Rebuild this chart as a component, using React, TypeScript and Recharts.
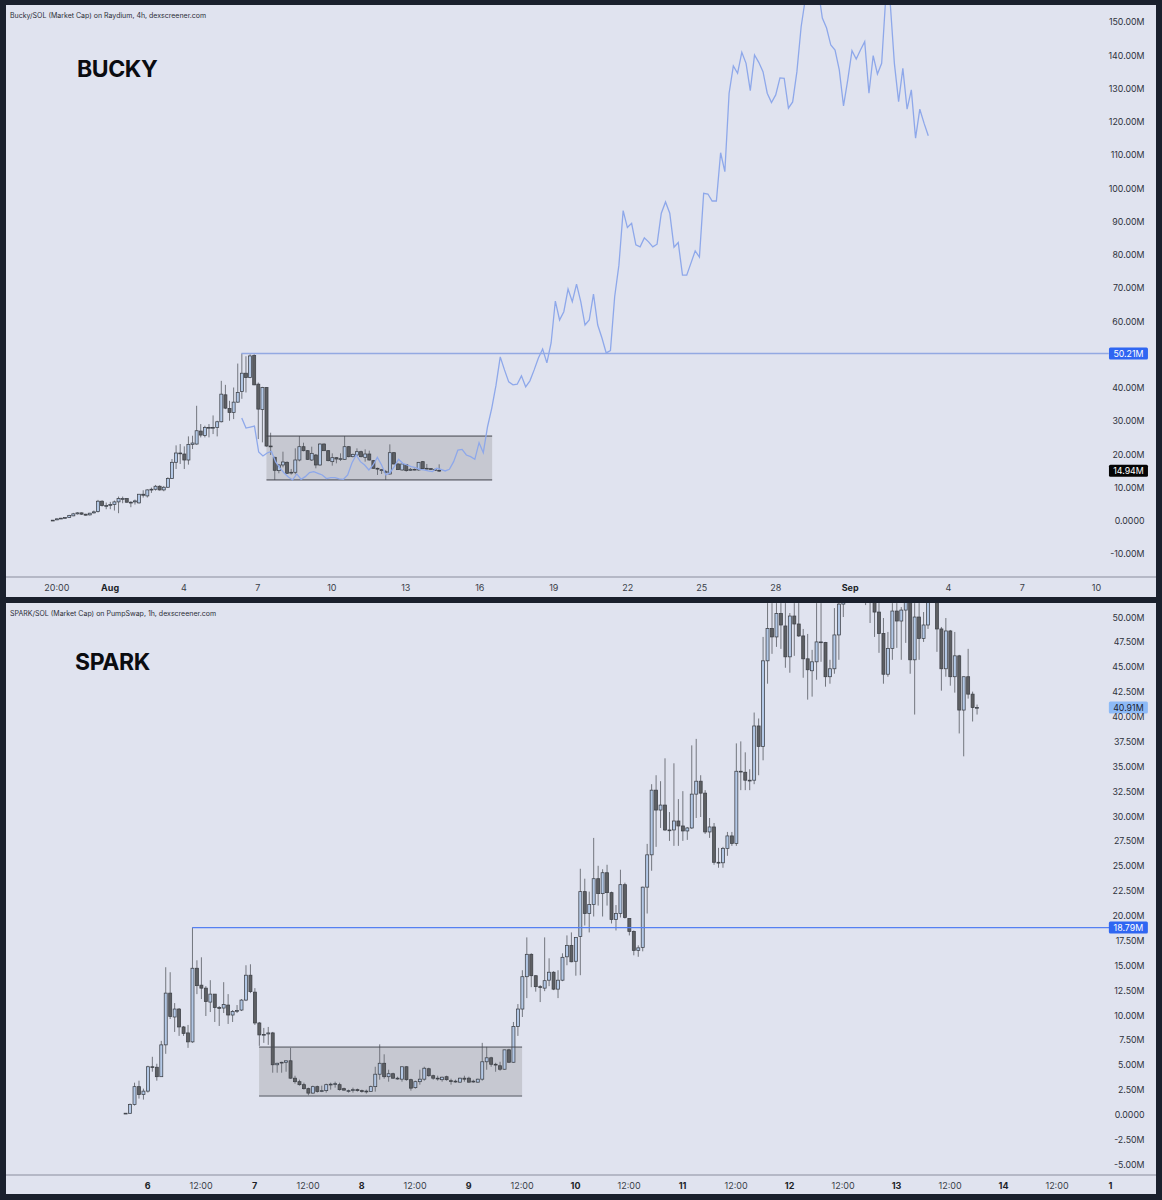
import React from 'react';
import {
  ComposedChart,
  Bar,
  Line,
  XAxis,
  YAxis,
  ReferenceArea,
  ReferenceLine,
  ReferenceDot,
} from 'recharts';

// [open, high, low, close] in millions, 4h bars
const buckyCandles = [
  [0, 0.15, -0.1, 0.1], [0.2, 0.6, 0.1, 0.5], [0.55, 0.8, 0.5, 0.7], [0.7, 1, 0.55, 0.9],
  [0.9, 1.7, 0.8, 1.5], [1.4, 2.3, 1.3, 2], [2, 2.5, 1.8, 2.3], [2.3, 2.4, 1.7, 1.9],
  [1.9, 2, 1.5, 1.6], [1.7, 2.3, 1.5, 2.2], [2.3, 3, 2.1, 2.6], [2.7, 6.2, 2.4, 5.8],
  [5.8, 6.1, 4.2, 4.5], [4.4, 5.4, 3.4, 4.5], [4.8, 5.6, 3.4, 4.8], [4.8, 6, 3, 5.6],
  [5.6, 7.2, 2.2, 6.6], [6.6, 7.2, 5.2, 6.6], [6.6, 6.7, 5.4, 5.5], [5.5, 5.8, 4, 5.5],
  [5.6, 6.3, 4.8, 5.9], [5.3, 7.9, 5.1, 7.9], [7.9, 9.1, 6.9, 7.6], [7.4, 9.4, 6.9, 9.2],
  [9.3, 9.9, 8.3, 9.4], [9.4, 10.7, 9, 10.3], [10.3, 10.6, 9, 9.2], [9.2, 10.4, 8.8, 10],
  [10, 13, 9.8, 12.6], [12.6, 18.5, 12.5, 17.5], [17.5, 22.6, 15.5, 20.3], [20.3, 23, 17, 20.2],
  [20, 22.3, 15.5, 18.2], [18.2, 25.3, 16.8, 22.9], [22.9, 25.5, 21.5, 23.3], [23, 34.5, 22.8, 27],
  [26.9, 29, 25, 25.7], [25.6, 28.5, 25, 28], [27.9, 29, 25, 28], [28, 31.6, 26, 28],
  [28, 30, 25.3, 29.7], [29.7, 42, 29.5, 38], [37.8, 40.8, 33.5, 33.8], [33.7, 36, 30, 32.5],
  [32.5, 40, 30.5, 35.6], [35.6, 47.2, 35.4, 38.5], [38.8, 50.21, 36.6, 44.3], [44.3, 49.4, 38.5, 43],
  [43, 50, 42.8, 49.5], [49.6, 50, 40.7, 40.8], [41, 41.5, 24.5, 33.5], [33.4, 40.2, 23.5, 40],
  [40, 40.1, 22.2, 22.4], [22.4, 26.4, 19.7, 22.2], [19, 19.2, 12.2, 15.1], [15, 17, 14.2, 16.7],
  [16.7, 20.7, 16, 17.6], [17.5, 17.8, 14, 14.2], [14.3, 15.5, 13.8, 14.5], [14.5, 21.7, 13.9, 18.2],
  [18.2, 25.4, 17.8, 22.2], [22.2, 23.4, 20.8, 21], [21, 21.2, 18.2, 18.4], [18.2, 22.2, 17.9, 20.2],
  [19.7, 20, 15.7, 16.7], [16.7, 23.2, 16.5, 23], [23, 23.2, 21, 21], [21, 21.2, 17.8, 18],
  [17.7, 20.2, 16.5, 18.9], [18.9, 19, 17.2, 18.5], [18.4, 20.2, 17.9, 18.6], [18.4, 25.4, 18.2, 22.2],
  [22.2, 22.4, 19, 19.2], [19.2, 20.1, 19, 19.9], [19.7, 21.7, 19.5, 20.7], [20.7, 21, 19, 19.2],
  [19, 21.4, 17.7, 20], [20, 21, 18, 18.2], [18, 18.2, 15.6, 15.7], [15.7, 15.9, 13.7, 15.6],
  [15, 15.5, 14, 15.3], [14.5, 15.2, 12.2, 14.7], [14, 22.9, 13.8, 20.4], [20.4, 20.6, 16.9, 17],
  [17, 17.2, 15.2, 15.3], [15.2, 17, 15, 17], [16.8, 17, 14.7, 15], [15.1, 15.8, 14.9, 15.4],
  [15.4, 15.6, 15.1, 15.4], [15.2, 17.6, 15, 17.5], [17.7, 17.9, 15.5, 15.6], [15.7, 17, 15.4, 15.7],
  [15.6, 15.7, 15.2, 15.5], [15.3, 15.6, 14.9, 15.1], [15.1, 16.9, 14.6, 14.94],
];

// overlaid comparison line, one value per bar of the other pair
const buckyLine = [
  30.8, 27.8, 28.1, 28.4, 20.6, 19.4, 20.3, 20.8, 17.6, 15.8, 14.3, 13.1, 12.2,
  14, 12.4, 13.2, 14.4, 14.7, 14.2, 13.7, 12.6, 12.9, 12.9, 12.5, 12.4, 13.7, 17.3, 19.7, 17.7,
  16.7, 15.2, 16.7, 19, 16.7, 13.7, 14.4, 16.2, 18.4, 17.2, 16.7, 16.2, 15.9, 15.4, 15.2, 14.9, 14.7,
  15.7, 15.4, 14.9, 15.4, 17.7, 21.2, 21.4, 19.7, 19.2, 18.4, 23.4, 20.4, 28.2, 33.8, 40.7, 49.2,
  45.3, 41.7, 40.8, 41, 43.5, 40.2, 42, 45.3, 48.9, 51.6, 47.4, 53.4, 66, 60.3, 62.8, 69.6, 65.8, 71.1,
  65.8, 58.8, 60.3, 68.1, 58.8, 54.9, 50.4, 51.1, 67.3, 76.8, 93.2, 88.1, 89.4, 82.9, 82.3, 85,
  83.8, 82.3, 83.1, 92.4, 95.8, 92.4, 82.2, 83.6, 73.8, 73.8, 77.4, 81.1, 79.2, 98.4, 98.2, 96.1,
  96.1, 110.6, 104.9, 128.5, 136.7, 134.5, 140.8, 137.5, 129.3, 140, 137.8, 135, 128.5, 125.7, 128,
  133.1, 133, 124, 125.9, 135, 148.5, 157, 161, 165, 160, 151.1, 148.1, 143, 141.5, 135.5, 124.7,
  132.5, 141.3, 138.8, 141.5, 144, 128.5, 139.8, 134.3, 137.5, 158, 156, 137.5, 126, 136, 123.7,
  129.5, 115, 123.7, 119.5, 115.7,
];

const buckyPriceTicks = [150, 140, 130, 120, 110, 100, 90, 80, 70, 60, 40, 30, 20, 10, 0, -10];
const buckyTimeTicks = [1.1, 14.05, 32, 50, 68, 86, 104, 122, 140, 158, 176, 194.1, 218, 236, 254];
const buckyTimeLabels = ['20:00', 'Aug', '4', '7', '10', '13', '16', '19', '22', '25', '28', 'Sep', '4', '7', '10'];
const buckyBoldLabels = ['Aug', 'Sep'];

// [open, high, low, close] in millions, 1h bars
const sparkCandles = [
  [0.1, 0.15, 0.1, 0.13], [0.12, 1.1, 0.1, 1], [1, 3.2, 0.9, 2.8], [2.8, 3.4, 1.6, 2],
  [2, 2.6, 1.5, 2.35], [2.35, 4.9, 2.2, 4.8], [4.8, 5.8, 4.3, 4.75], [4.75, 5.1, 3.4, 3.8],
  [3.8, 7.4, 3.8, 7], [7, 14.8, 6.1, 12.2], [12.2, 14.3, 9.6, 9.85], [9.8, 11.2, 8.3, 10.6],
  [10.6, 10.7, 7.9, 8.8], [8.8, 8.9, 7.9, 8.15], [8.2, 9, 6.7, 7.3], [7.3, 18.79, 7.2, 14.7],
  [14.7, 15.5, 12.1, 12.95], [13, 15.8, 11.6, 12.7], [12.7, 12.9, 9.9, 11.35], [11.3, 13.5, 10.3, 12.1],
  [12.1, 12.1, 9.3, 10.75], [10.75, 10.9, 8.9, 10.7], [10.7, 13.3, 10.2, 11.05], [11, 12.1, 9.1, 10],
  [10, 10.5, 9.3, 10.35], [10.4, 11, 10.2, 10.45], [10.5, 11.6, 10.4, 11.5], [11.5, 15, 11.4, 14],
  [14, 15.1, 12.2, 12.35], [12.3, 12.7, 9, 9.2], [9.2, 9.3, 6.9, 8], [8, 8.7, 7.2, 8.05],
  [8.1, 8.8, 7, 8.2], [8.2, 8.3, 4.2, 5], [5, 5.2, 4.2, 5.15], [5.2, 5.3, 4.2, 5.25],
  [5.25, 5.4, 4.3, 5.4], [5.4, 6.7, 3.6, 3.65], [3.65, 3.9, 3.1, 3.3], [3.3, 3.5, 2.9, 3],
  [3, 3.2, 2.5, 2.6], [2.6, 2.7, 1.9, 2.15], [2.15, 2.9, 2.1, 2.8], [2.8, 2.9, 2.2, 2.3],
  [2.35, 2.9, 2.25, 2.4], [2.4, 3.1, 2.2, 3],
  [3, 3.2, 2.5, 3.05], [3.05, 3.3, 2.7, 3.1], [3, 3.2, 2.4, 2.5], [2.6, 2.7, 2.4, 2.45],
  [2.4, 2.5, 2.2, 2.4], [2.45, 2.7, 2.2, 2.5], [2.5, 2.6, 2.3, 2.4], [2.4, 2.5, 2.2, 2.3],
  [2.3, 2.5, 2.1, 2.35], [2.3, 2.9, 2.3, 2.8], [2.8, 4.8, 2.3, 4.05], [4.05, 7.05, 3.5, 5.15],
  [5.15, 6.05, 3.6, 3.8], [3.8, 4.5, 3.3, 4.1], [4.1, 4.2, 3.6, 3.65], [3.65, 3.8, 3.5, 3.65],
  [3.55, 4.8, 3.3, 4.8], [4.8, 4.85, 3.4, 3.5], [3.5, 3.6, 2.4, 2.65], [2.7, 3.4, 2.6, 3.3],
  [3.3, 4.5, 3, 3.55], [3.55, 4.8, 3.4, 4.65], [4.6, 4.7, 3.8, 3.9], [3.9, 4, 3.5, 3.65],
  [3.65, 3.9, 3.4, 3.6], [3.5, 3.8, 3.3, 3.75], [3.8, 3.9, 3.4, 3.5], [3.4, 3.6, 3, 3.35],
  [3.35, 3.5, 3.2, 3.3], [3.25, 3.7, 3.2, 3.65], [3.65, 3.9, 3.3, 3.55], [3.65, 3.8, 3.2, 3.25],
  [3.3, 3.5, 3.2, 3.35], [3.25, 3.6, 3.2, 3.55], [3.55, 7.2, 3.4, 5.3], [5.3, 6.8, 4.5, 5.7],
  [5.7, 5.8, 4.8, 5.05], [5.05, 5.2, 4.3, 5], [4.9, 5.3, 4.4, 4.55], [4.55, 6.5, 4.5, 6.5],
  [6.5, 6.6, 5.2, 5.25],
  [5.25, 9.3, 5.2, 8.85], [8.85, 11.1, 7.9, 10.6], [10.6, 14.5, 9.8, 13.85], [13.85, 17.8, 11.7, 16.1],
  [16.1, 16.2, 12.8, 13.95], [13.95, 14, 12.35, 12.85], [12.85, 13, 11.3, 12.8], [12.7, 17.8, 12.4, 13.45],
  [13.5, 15.7, 12.9, 14.3], [14.3, 14.4, 12.5, 12.6], [12.6, 14.5, 11.7, 13.5], [13.5, 16.2, 13.4, 15.8],
  [15.85, 18, 15, 17], [17, 18.3, 15.3, 15.35], [15.4, 17.8, 13.95, 17.8], [17.9, 24.7, 14, 22.4],
  [22.4, 23.7, 19, 20.2], [20.2, 22.4, 18.3, 21.1], [21.1, 27.8, 19.9, 23.7], [23.7, 25, 21, 22.2],
  [22.2, 24.65, 19.9, 24.3], [24.3, 25.1, 21, 22.3], [22.3, 22.4, 19.2, 19.6], [19.6, 21.05, 18.5, 20.2],
  [20.2, 24.6, 19.8, 23.1], [23.1, 23.3, 19.7, 19.8], [19.7, 19.7, 18, 18.4], [18.4, 18.5, 16, 16.5],
  [16.5, 17, 15.85, 16.75], [16.8, 22.9, 16.4, 22.85], [22.85, 27.2, 20.2, 26.1], [26.1, 33.2, 24.5, 32.6],
  [32.6, 34.1, 26.9, 30.6], [30.6, 33.5, 28.8, 31.1], [31.1, 35.8, 28.5, 28.6], [28.6, 30.4, 27.5, 28.6],
  [28.6, 35.3, 27, 29.5], [29.5, 31.7, 27, 29], [29, 32.5, 27.5, 28.5], [28.5, 28.9, 27.6, 28.8],
  [28.8, 37.1, 28.7, 32.2], [32.2, 37.75, 29.8, 33.5], [33.5, 34.1, 29.9, 32.3], [32.3, 32.6, 28.2, 28.4],
  [28.4, 29.8, 27.8, 28.9], [28.9, 29.3, 25.1, 25.35], [25.35, 26.8, 24.8, 25.3], [25.3, 26.9, 24.8, 26.75],
  [26.75, 28.4, 26, 28], [28, 28.4, 27, 27.25], [27.25, 37.3, 27, 34.5],
  [34.5, 37.5, 32.6, 34.5], [34.4, 36.4, 32.6, 33.6], [33.6, 34.7, 32.6, 33.6], [33.6, 40.4, 33.2, 39.05],
  [39.05, 39.8, 34.1, 37], [37, 48, 35.6, 45.6], [45.6, 51.4, 43.3, 48.85], [48.85, 51.4, 46.3, 48],
  [48, 51.4, 47, 50.35], [50.35, 51.4, 46.8, 49.2], [49.1, 51.4, 44.9, 46], [46, 50.4, 44.4, 50.1],
  [50.1, 51.4, 46.1, 49.3], [49.3, 51.4, 48, 48.1], [48.1, 48.8, 43.9, 45.8], [45.8, 48.3, 41.7, 44.7],
  [44.6, 46.7, 42, 45.5], [45.5, 51.4, 43.7, 47.5], [47.5, 51.4, 45.5, 47.5], [47.45, 47.5, 43, 44],
  [44, 45.7, 43.3, 44.8], [44.8, 50.9, 44.3, 48.2], [48.2, 52, 45.7, 51.3], [51.3, 54, 50, 53],
  [53, 55, 52, 54], [54, 56, 52.5, 55], [55, 56, 53, 54], [54, 55, 52.8, 53],
  [52, 53, 51.2, 51.5], [51.5, 53, 49.4, 51.6], [51.6, 51.7, 48, 50.5], [50.5, 51.4, 46.4, 48.35],
  [48.35, 49.9, 43.3, 44.25], [44.25, 48.5, 44, 46.85], [46.85, 51.4, 45.7, 50.6], [50.6, 51.4, 46.9, 49.6],
  [49.6, 51, 45.7, 50.7], [50.7, 53, 47.4, 51.9], [51.9, 53, 44.3, 45.7], [45.7, 51.4, 40.2, 50],
  [50, 51.4, 45.7, 47.85], [47.85, 50.5, 47.5, 49.2], [49.2, 52, 48.8, 52], [52, 53, 51.5, 52.5],
  [52, 53, 46.5, 48.8], [48.8, 49, 42.6, 44.8], [44.8, 49.9, 44, 48.6], [48.6, 48.7, 43.1, 44],
  [44, 48.5, 42.4, 46.1], [46.1, 46.2, 38.3, 40.65], [40.65, 44, 36, 44], [44, 46.8, 41.8, 42.25],
  [42.25, 42.5, 39.5, 40.9], [40.9, 41.2, 40.2, 40.91],
];

const sparkPriceTicks = [
  50, 47.5, 45, 42.5, 40, 37.5, 35, 32.5, 30, 27.5, 25, 22.5, 20, 17.5, 15, 12.5, 10, 7.5, 5, 2.5, 0, -2.5, -5,
];
const sparkTimeTicks = [0, 12, 24, 36, 48, 60, 72, 84, 96, 108, 120, 132, 144, 156, 168, 180, 192, 204, 216];
const sparkTimeLabels = [
  '6', '12:00', '7', '12:00', '8', '12:00', '9', '12:00', '10', '12:00', '11', '12:00', '12', '12:00', '13',
  '12:00', '14', '12:00', '1',
];
const sparkBoldLabels = ['6', '7', '8', '9', '10', '11', '12', '13', '14', '1'];

const BG = '#e0e3ef';
const FRAME = '#1a202d';
const PANEL_WIDTH = 1150;
const LABEL_X = 1138.5;
const FONT = 'Inter, "Liberation Sans", sans-serif';
const BUCKY_BARS: [number, number] = [-11.27, 268.5];

const toRows = (candles: number[][], firstBar: number) =>
  candles.map(([open, high, low, close], i) => ({
    t: firstBar + i,
    open,
    high,
    low,
    close,
    range: [low, high],
  }));

const buckyRows = toRows(buckyCandles, 0);
const sparkRows = toRows(sparkCandles, -5);

// the line sits on its own bars, spaced a little wider than the candles
const LINE_FIRST_BAR = 46.08;
const LINE_LAST_BAR = 213.1;
const buckyLineRows = buckyLine.map((v, i) => ({
  t: LINE_FIRST_BAR + (i * (LINE_LAST_BAR - LINE_FIRST_BAR)) / (buckyLine.length - 1),
  v,
}));

const Candle = (props: any) => {
  const { x, y, width, height, payload } = props;
  const { open, high, low, close } = payload;
  const perUnit = height / (high - low);
  const yOf = (v: number) => y + (high - v) * perUnit;
  const up = close >= open;
  const top = yOf(Math.max(open, close));
  const bodyHeight = Math.max(Math.abs(open - close) * perUnit, 0.8);
  const mid = x + width / 2;
  return (
    <g>
      <line x1={mid} x2={mid} y1={y} y2={y + height} stroke="#666a72" strokeWidth={0.9} />
      <rect
        x={x}
        y={top}
        width={width}
        height={bodyHeight}
        fill={up ? '#b3c8e6' : '#5d5f63'}
        stroke="#3d4047"
        strokeWidth={0.75}
      />
    </g>
  );
};

const priceLabel = (v: number) => (v === 0 ? '0.0000' : `${v.toFixed(2)}M`);

const PriceTick = ({ y, payload }: any) => (
  <text x={LABEL_X} y={y} dy={3.5} textAnchor="end" fontSize={8.8} fontFamily={FONT} fill="#2e323c">
    {priceLabel(payload.value)}
  </text>
);

const makeTimeTick = (ticks: number[], labels: string[], bold: string[]) => ({ x, y, payload }: any) => {
  const label = labels[ticks.indexOf(payload.value)];
  return (
    <text
      x={x}
      y={y}
      dy={5.5}
      textAnchor="middle"
      fontSize={9}
      fontWeight={bold.includes(label) ? 700 : 400}
      fontFamily={FONT}
      fill={bold.includes(label) ? '#1c1f28' : '#3a3e48'}
    >
      {label}
    </text>
  );
};

const makeTag = (label: string, fill: string, color: string) => ({ cx, cy }: any) => (
  <g>
    <rect x={cx - 19.5} y={cy - 6} width={39} height={12} rx={1.5} fill={fill} />
    <text x={cx} y={cy} dy={3.6} textAnchor="middle" fontSize={8.8} fontFamily={FONT} fill={color}>
      {label}
    </text>
  </g>
);

const Panel = ({ top, height, caption, title, titleX, titleY, children }: any) => (
  <div
    style={{
      position: 'absolute',
      left: 6,
      top,
      width: PANEL_WIDTH,
      height,
      overflow: 'hidden',
      background: BG,
    }}
  >
    {children}
    <div
      style={{
        position: 'absolute',
        left: 4,
        top: 6,
        fontFamily: FONT,
        fontSize: 7,
        lineHeight: '9px',
        color: '#2b2e38',
        whiteSpace: 'nowrap',
      }}
    >
      {caption}
    </div>
    <div
      style={{
        position: 'absolute',
        left: titleX,
        top: titleY,
        fontFamily: FONT,
        fontSize: 23,
        letterSpacing: -0.4,
        fontWeight: 700,
        lineHeight: '28px',
        color: '#0b0c10',
      }}
    >
      {title}
    </div>
  </div>
);

const BuckyChart = () => (
  <ComposedChart width={PANEL_WIDTH} height={592} data={buckyRows} margin={{ top: 0, right: 0, bottom: 0, left: 0 }}>
    <XAxis
      dataKey="t"
      type="number"
      domain={BUCKY_BARS}
      allowDataOverflow
      ticks={buckyTimeTicks}
      interval={0}
      height={20}
      tickLine={false}
      axisLine={{ stroke: '#a7aab8', strokeWidth: 1.5 }}
      tick={makeTimeTick(buckyTimeTicks, buckyTimeLabels, buckyBoldLabels)}
    />
    {/* second axis so the line's bars do not squeeze the candle band */}
    <XAxis xAxisId="line" dataKey="t" type="number" domain={BUCKY_BARS} allowDataOverflow hide />
    <YAxis
      type="number"
      orientation="right"
      mirror
      domain={[-16.99, 155.04]}
      allowDataOverflow
      ticks={buckyPriceTicks}
      interval={0}
      tickLine={false}
      axisLine={false}
      tick={PriceTick}
    />
    <Bar dataKey="range" barSize={3} shape={Candle} isAnimationActive={false} />
    <ReferenceArea x1={52.1} x2={107} y1={12.2} y2={25.4} fill="#8b8b8b" fillOpacity={0.3} stroke="none" />
    <ReferenceLine segment={[{ x: 52.1, y: 25.4 }, { x: 107, y: 25.4 }]} stroke="#40434b" strokeWidth={1} />
    <ReferenceLine segment={[{ x: 52.1, y: 12.2 }, { x: 107, y: 12.2 }]} stroke="#40434b" strokeWidth={1} />
    <ReferenceLine segment={[{ x: 46, y: 50.21 }, { x: 257, y: 50.21 }]} stroke="#93a9e2" strokeWidth={1.4} />
    <Line
      xAxisId="line"
      data={buckyLineRows}
      dataKey="v"
      stroke="#8ea8ea"
      strokeWidth={1.3}
      dot={false}
      type="linear"
      isAnimationActive={false}
    />
    <ReferenceDot x={261.8} y={50.21} shape={makeTag('50.21M', '#2f66f2', '#ffffff')} />
    <ReferenceDot x={261.8} y={14.94} shape={makeTag('14.94M', '#050505', '#ffffff')} />
  </ComposedChart>
);

const SparkChart = () => (
  <ComposedChart width={PANEL_WIDTH} height={591} data={sparkRows} margin={{ top: 0, right: 0, bottom: 0, left: 0 }}>
    <XAxis
      dataKey="t"
      type="number"
      domain={[-31.77, 226.2]}
      allowDataOverflow
      ticks={sparkTimeTicks}
      interval={0}
      height={19}
      tickLine={false}
      axisLine={{ stroke: '#a7aab8', strokeWidth: 1.5 }}
      tick={makeTimeTick(sparkTimeTicks, sparkTimeLabels, sparkBoldLabels)}
    />
    <YAxis
      type="number"
      orientation="right"
      mirror
      domain={[-6.08, 51.41]}
      allowDataOverflow
      ticks={sparkPriceTicks}
      interval={0}
      tickLine={false}
      axisLine={false}
      tick={PriceTick}
    />
    <Bar dataKey="range" barSize={3} shape={Candle} isAnimationActive={false} />
    <ReferenceArea x1={25} x2={84} y1={1.86} y2={6.78} fill="#8b8b8b" fillOpacity={0.3} stroke="none" />
    <ReferenceLine segment={[{ x: 25, y: 6.78 }, { x: 84, y: 6.78 }]} stroke="#4c4f58" strokeWidth={1} />
    <ReferenceLine segment={[{ x: 25, y: 1.86 }, { x: 84, y: 1.86 }]} stroke="#7d808a" strokeWidth={1.4} />
    <ReferenceLine segment={[{ x: 10, y: 18.79 }, { x: 216, y: 18.79 }]} stroke="#5580f2" strokeWidth={1.2} />
    <ReferenceDot x={220} y={18.79} shape={makeTag('18.79M', '#2f66f2', '#ffffff')} />
    <ReferenceDot x={220} y={40.91} shape={makeTag('40.91M', '#8dbaf6', '#1c2230')} />
  </ComposedChart>
);

export default function App() {
  return (
    <div style={{ position: 'absolute', left: 0, top: 0, width: 1162, height: 1200, background: FRAME, overflow: 'hidden' }}>
      <Panel
        top={5}
        height={592}
        caption="Bucky/SOL (Market Cap) on Raydium, 4h, dexscreener.com"
        title="BUCKY"
        titleX={71}
        titleY={50}
      >
        <BuckyChart />
      </Panel>
      <Panel
        top={603}
        height={591}
        caption="SPARK/SOL (Market Cap) on PumpSwap, 1h, dexscreener.com"
        title="SPARK"
        titleX={69}
        titleY={45}
      >
        <SparkChart />
      </Panel>
    </div>
  );
}
